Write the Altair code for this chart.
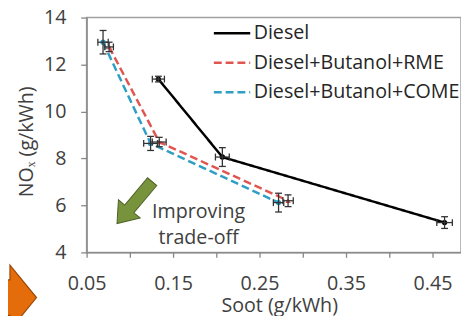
import altair as alt
import pandas as pd

series_names = ["Diesel", "Diesel+Butanol+RME", "Diesel+Butanol+COME"]

diesel_soot = [0.133, 0.207, 0.464]
diesel_nox = [11.38, 8.06, 5.27]
diesel_soot_err = [0.007, 0.008, 0.009]
diesel_nox_err = [0.12, 0.40, 0.25]

rme_soot = [0.076, 0.134, 0.283]
rme_nox = [12.75, 8.70, 6.20]
rme_soot_err = [0.005, 0.008, 0.006]
rme_nox_err = [0.20, 0.20, 0.25]

come_soot = [0.069, 0.124, 0.272]
come_nox = [12.95, 8.64, 6.12]
come_soot_err = [0.006, 0.008, 0.006]
come_nox_err = [0.50, 0.30, 0.40]

x_tick_values = [0.05, 0.10, 0.15, 0.20, 0.25, 0.30, 0.35, 0.40, 0.45]
y_tick_values = [4, 5, 6, 7, 8, 9, 10, 11, 12, 13, 14]

rows = []
for name, sx, ny, se, ne in [
    (series_names[0], diesel_soot, diesel_nox, diesel_soot_err, diesel_nox_err),
    (series_names[1], rme_soot, rme_nox, rme_soot_err, rme_nox_err),
    (series_names[2], come_soot, come_nox, come_soot_err, come_nox_err),
]:
    for i in range(len(sx)):
        rows.append({"series": name, "idx": i, "soot": sx[i], "nox": ny[i],
                     "se": se[i], "ne": ne[i]})
df = pd.DataFrame(rows)

colors = ["#000000", "#E05550", "#2E9EC4"]
dashes = [[1, 0], [8, 4], [8, 4]]
shapes = ["circle", "triangle-up", "circle"]

FONT = "Open Sans"
FS = 20
TXT = "#404040"
AX = "#868686"

xscale = alt.Scale(domain=[0.05, 0.483], nice=False, zero=False)
yscale = alt.Scale(domain=[4, 14], nice=False, zero=False)

x_axis = alt.Axis(values=x_tick_values, grid=False, tickSize=5, labelPadding=17,
                  labelExpr="round(datum.value*100) % 10 == 5 ? format(datum.value, '.2f') : ''",
                  labelFlush=False, labelOverlap=False,
                  titleX=196, titleY=54, titleBaseline="middle")
y_axis = alt.Axis(values=y_tick_values, grid=False, tickSize=6, labelPadding=15,
                  labelExpr="datum.value % 2 == 0 ? datum.label : ''",
                  labelFlush=False, labelOverlap=False,
                  titleX=-61, titleY=126, titleAngle=-90, titleBaseline="middle",
                  titleAlign="center")

XT = "Soot (g/kWh)"
YT = "NOₓ (g/kWh)"

legend = alt.Legend(title=None, orient="none", legendX=128, legendY=-4,
                    symbolType="stroke", symbolSize=1369, symbolStrokeWidth=2.5,
                    labelFontSize=FS, labelFont=FONT, labelColor="#262626",
                    rowPadding=0, labelOffset=2, padding=0, labelLimit=400)

color_enc = alt.Color("series:N", scale=alt.Scale(domain=series_names, range=colors),
                      legend=legend)
dash_enc = alt.StrokeDash("series:N", scale=alt.Scale(domain=series_names, range=dashes),
                          legend=legend)

base = alt.Chart(df)

lines = base.mark_line(strokeWidth=2.5).encode(
    x=alt.X("soot:Q", scale=xscale, axis=x_axis, title=XT),
    y=alt.Y("nox:Q", scale=yscale, axis=y_axis, title=YT),
    color=color_enc, strokeDash=dash_enc, order="idx:O",
    detail="series:N",
)

point_layers = []
for name, col, shp in zip(series_names, colors, shapes):
    point_layers.append(
        base.transform_filter(alt.datum.series == name)
        .mark_point(filled=True, size=30, opacity=1, strokeWidth=0, shape=shp, fill=col)
        .encode(x=alt.X("soot:Q", title=XT), y=alt.Y("nox:Q", title=YT))
    )

eb = base.transform_calculate(
    xlo="datum.soot - datum.se", xhi="datum.soot + datum.se",
    ylo="datum.nox - datum.ne", yhi="datum.nox + datum.ne",
)
EBC = "#333333"
vbars = eb.mark_rule(strokeWidth=1.3, color=EBC).encode(
    x=alt.X("soot:Q", title=XT), y=alt.Y("ylo:Q", title=YT), y2="yhi:Q")
hbars = eb.mark_rule(strokeWidth=1.3, color=EBC).encode(
    x=alt.X("xlo:Q", title=XT), x2="xhi:Q", y=alt.Y("nox:Q", title=YT))
cap_lo = eb.mark_tick(orient="horizontal", size=7, thickness=1.3, color=EBC, opacity=1).encode(
    x=alt.X("soot:Q", title=XT), y=alt.Y("ylo:Q", title=YT))
cap_hi = eb.mark_tick(orient="horizontal", size=7, thickness=1.3, color=EBC, opacity=1).encode(
    x=alt.X("soot:Q", title=XT), y=alt.Y("yhi:Q", title=YT))
cap_l = eb.mark_tick(orient="vertical", size=7, thickness=1.3, color=EBC, opacity=1).encode(
    x=alt.X("xlo:Q", title=XT), y=alt.Y("nox:Q", title=YT))
cap_r = eb.mark_tick(orient="vertical", size=7, thickness=1.3, color=EBC, opacity=1).encode(
    x=alt.X("xhi:Q", title=XT), y=alt.Y("nox:Q", title=YT))

one = alt.Chart(pd.DataFrame({"a": [0]}))

arrow_right = "M -1 -0.22 L 0.3 -0.22 L 0.3 -0.52 L 1 0 L 0.3 0.52 L 0.3 0.22 L -1 0.22 Z"
green_arrow = one.mark_point(shape=arrow_right, size=3100, angle=130, filled=True,
                             fill="#77933C", stroke="#4F6228", strokeWidth=1, opacity=1).encode(
    x=alt.datum(0.1055), y=alt.datum(6.12))

orange_path = "M -1 -0.36 L 0.46 -0.36 L 0.46 -0.66 L 1 0 L 0.46 0.66 L 0.46 0.36 L -1 0.36 Z"
orange_arrow = one.mark_point(shape=orange_path, size=10000, filled=True,
                              fill="#E46C0A", stroke="#984807", strokeWidth=1.2, opacity=1).encode(
    x=alt.value(-101), y=alt.value(285))

note = one.mark_text(text="Improving\ntrade-off", lineBreak="\n", fontSize=FS,
                     lineHeight=27, font=FONT, color=TXT, align="center",
                     baseline="middle").encode(
    x=alt.datum(0.1795), y=alt.datum(5.72))

chart = alt.layer(
    lines, *point_layers, vbars, hbars, cap_lo, cap_hi, cap_l, cap_r,
    green_arrow, note, orange_arrow,
).properties(
    width=381, height=239,
    autosize=alt.AutoSizeParams(type="none"),
    padding={"left": 80, "top": 7, "right": 0, "bottom": 62},
).configure_view(
    stroke="#A0A0A0", strokeWidth=1.5,
).configure_axis(
    labelFont=FONT, titleFont=FONT, labelFontSize=FS, titleFontSize=FS,
    labelColor=TXT, titleColor=TXT, titleFontWeight="normal",
    domainColor=AX, tickColor=AX, domainWidth=1.3, tickWidth=1.3,
)

chart.save("out.html", embed_options={"renderer": "svg", "actions": False})
